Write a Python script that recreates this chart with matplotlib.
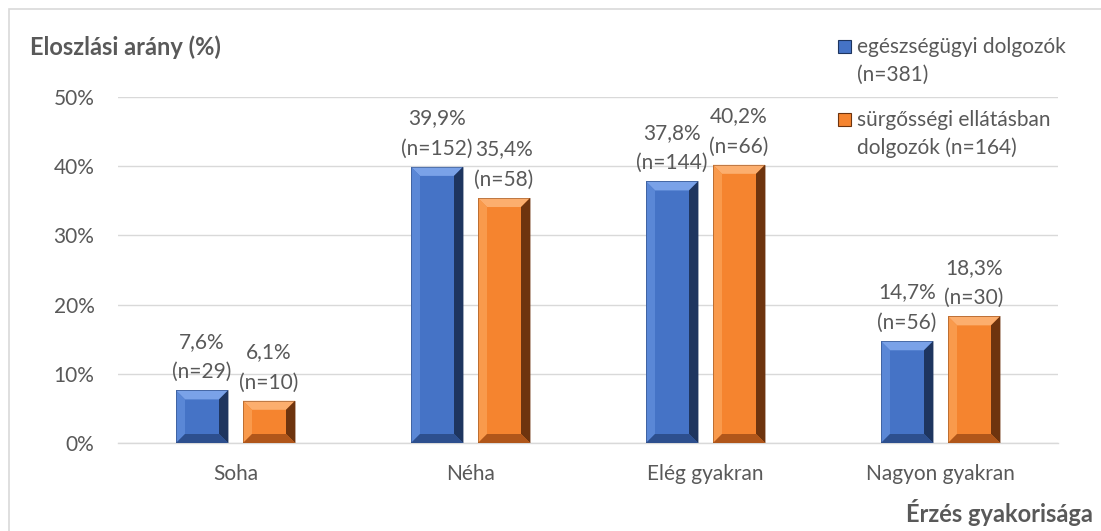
import matplotlib
matplotlib.use("Agg")
import matplotlib.pyplot as plt
from matplotlib.patches import Polygon, Rectangle
import numpy as np

categories = ["Soha", "Néha", "Elég gyakran", "Nagyon gyakran"]
series_line1 = ["egészségügyi dolgozók", "sürgősségi ellátásban"]
series_line2 = ["(n=381)", "dolgozók (n=164)"]
health_pct = [7.6, 39.9, 37.8, 14.7]
health_n = [29, 152, 144, 56]
emerg_pct = [6.1, 35.4, 40.2, 18.3]
emerg_n = [10, 58, 66, 30]
yticks = [0, 10, 20, 30, 40, 50]

TXT = "#595959"
GRID = "#D9D9D9"
FONT = "Lato"
FS = 15
plt.rcParams["font.family"] = [FONT, "DejaVu Sans"]

W, H = 1101, 531
fig = plt.figure(figsize=(W / 100, H / 100), dpi=100)
ax = fig.add_axes([118 / W, 1 - 443 / H, (1058 - 118) / W, (443 - 97) / H])

colors = [
    dict(base="#4573C6", top="#7AA2E8", left="#5A87D6", right="#1E355F", bottom="#2D4F8E"),
    dict(base="#F5842F", top="#FCAE6E", left="#F99A4C", right="#6E340E", bottom="#B0561A"),
]

x = np.arange(len(categories))
px_x = 1.0 / 235.0          # data units per pixel (x)
px_y = 50.0 / 346.0         # data units per pixel (y)
bw = 52 * px_x
off = 33.5 * px_x
bev = 9


def bevel_bar(cx, h, c):
    x0, x1 = cx - bw / 2, cx + bw / 2
    y0, y1 = 0, h
    bx = bev * px_x
    by = min(bev * px_y, h / 2)
    ix0, ix1, iy0, iy1 = x0 + bx, x1 - bx, y0 + by, y1 - by
    ax.add_patch(Rectangle((x0, y0), bw, h, facecolor=c["base"], edgecolor="none", zorder=3))
    faces = [
        ([(x0, y1), (x1, y1), (ix1, iy1), (ix0, iy1)], c["top"]),
        ([(x0, y0), (ix0, iy0), (ix0, iy1), (x0, y1)], c["left"]),
        ([(x1, y0), (x1, y1), (ix1, iy1), (ix1, iy0)], c["right"]),
        ([(x0, y0), (x1, y0), (ix1, iy0), (ix0, iy0)], c["bottom"]),
    ]
    for pts, col in faces:
        ax.add_patch(Polygon(pts, closed=True, facecolor=col, edgecolor="none", zorder=3.1))
    ax.add_patch(Rectangle((x0, y0), bw, h, facecolor="none", edgecolor=c["right"], lw=0.6, alpha=0.5, zorder=3.2))


for vals, ns, sgn, c in [(health_pct, health_n, -1, colors[0]), (emerg_pct, emerg_n, 1, colors[1])]:
    for xi, v, n in zip(x, vals, ns):
        cx = xi + sgn * off
        bevel_bar(cx, v, c)
        lbl = f"{v:.1f}".replace(".", ",") + f"%\n(n={n})"
        ax.annotate(lbl, (cx, v), xytext=(0, 6), textcoords="offset points",
                    ha="center", va="bottom", fontsize=FS, color=TXT,
                    linespacing=1.65, annotation_clip=False, zorder=5)

ax.set_xlim(-0.5, 3.5)
ax.set_ylim(0, 50)
ax.set_yticks(yticks)
ax.set_yticklabels([f"{t}%" for t in yticks])
ax.set_xticks(x)
ax.set_xticklabels(categories)
ax.tick_params(axis="both", length=0, labelsize=FS, labelcolor=TXT)
ax.tick_params(axis="y", pad=17)
ax.tick_params(axis="x", pad=15)
ax.grid(axis="y", color=GRID, lw=1, zorder=0)
ax.set_axisbelow(True)
for s in ["top", "right", "left"]:
    ax.spines[s].set_visible(False)
ax.spines["bottom"].set_color(GRID)
ax.spines["bottom"].set_linewidth(1)

# titles
fig.text(30 / W, 1 - 47 / H, "Eloszlási arány (%)", fontsize=17, fontweight="bold",
         color=TXT, ha="left", va="center")
fig.text(1093 / W, 1 - 513 / H, "Érzés gyakorisága", fontsize=17, fontweight="bold",
         color=TXT, ha="right", va="center")

# legend (manual)
for i, (l1, l2, c) in enumerate(zip(series_line1, series_line2, colors)):
    ty = 47 + i * 73
    fig.text(857 / W, 1 - ty / H, l1, fontsize=FS, color=TXT, ha="left",
             va="center", transform=fig.transFigure)
    fig.text(857 / W, 1 - (ty + 28) / H, l2, fontsize=FS, color=TXT, ha="left",
             va="center", transform=fig.transFigure)
    sq = 13
    fig.patches.append(Rectangle((838 / W, 1 - (ty + 6) / H), sq / W, sq / H,
                                 facecolor=c["base"], edgecolor=c["right"], lw=0.8,
                                 transform=fig.transFigure, figure=fig))

# outer border
fig.patches.append(Rectangle((8.5 / W, -0.1), 1.2, 1 - 8.5 / H + 0.1, facecolor="none",
                             edgecolor="#D9D9D9", lw=1.2, transform=fig.transFigure, figure=fig))

fig.savefig("out.png", dpi=100)
